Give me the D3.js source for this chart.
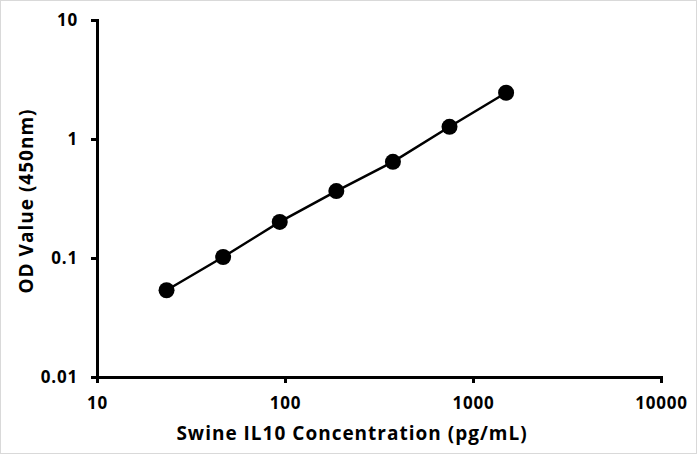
<!DOCTYPE html>
<html><head><meta charset="utf-8">
<script src="https://cdn.jsdelivr.net/npm/d3@7"></script>
<style>body{margin:0;background:#fff}svg{display:block}text{font-family:"Open Sans",sans-serif;font-weight:700;fill:#000}</style>
</head><body>
<script>
const concentrations = [23.4375, 46.875, 93.75, 187.5, 375, 750, 1500];
const odValues = [0.0536, 0.102, 0.201, 0.365, 0.643, 1.266, 2.447];
const xTicks = [10, 100, 1000, 10000];
const yTicks = [0.01, 0.1, 1, 10];
const xTitle = "Swine IL10 Concentration (pg/mL)";
const yTitle = "OD Value (450nm)";

const W = 697, H = 454;
const FONT = '"Open Sans",sans-serif';
const svg = d3.select("body").append("svg").attr("width", W).attr("height", H);
svg.append("rect").attr("x",0.5).attr("y",0.5).attr("width",W-1).attr("height",H-1)
  .attr("fill","#fff").attr("stroke","#d9d9d9");

const x = d3.scaleLog().domain([10, 10000]).range([97, 661]);
const y = d3.scaleLog().domain([0.01, 10]).range([377, 20]);

const xAxis = svg.append("g").attr("transform", `translate(0,${y(0.01)})`)
  .call(d3.axisBottom(x).tickValues(xTicks).tickFormat(d3.format("d")).tickSizeOuter(0).tickSize(6).tickPadding(14));
const yAxis = svg.append("g").attr("transform", `translate(${x(10)},0)`)
  .call(d3.axisLeft(y).tickValues(yTicks).tickFormat(d => String(d)).tickSizeOuter(0).tickSize(6).tickPadding(13));
[xAxis, yAxis].forEach(g => {
  g.select(".domain").attr("stroke","#000").attr("stroke-width",3);
  g.selectAll(".tick line").attr("stroke","#000").attr("stroke-width",3);
  g.selectAll(".tick text").attr("font-size",17).attr("letter-spacing","0.8px")
    .attr("font-family",FONT).attr("font-weight",700).attr("fill","#000");
});

const pts = concentrations.map((c,i)=>[c, odValues[i]]);
svg.append("path").datum(pts)
  .attr("d", d3.line().x(d=>x(d[0])).y(d=>y(d[1])))
  .attr("fill","none").attr("stroke","#000").attr("stroke-width",2.5);
svg.selectAll("circle.pt").data(pts).join("circle").attr("class","pt")
  .attr("cx",d=>x(d[0])).attr("cy",d=>y(d[1])).attr("r",8).attr("fill","#000");

svg.append("text").attr("x",352).attr("y",440).attr("text-anchor","middle")
  .attr("font-size",19).attr("letter-spacing","1px").text(xTitle);
svg.append("text").attr("transform","translate(33,201) rotate(-90)").attr("text-anchor","middle")
  .attr("font-size",19).attr("letter-spacing","1px").text(yTitle);
</script>
</body></html>
